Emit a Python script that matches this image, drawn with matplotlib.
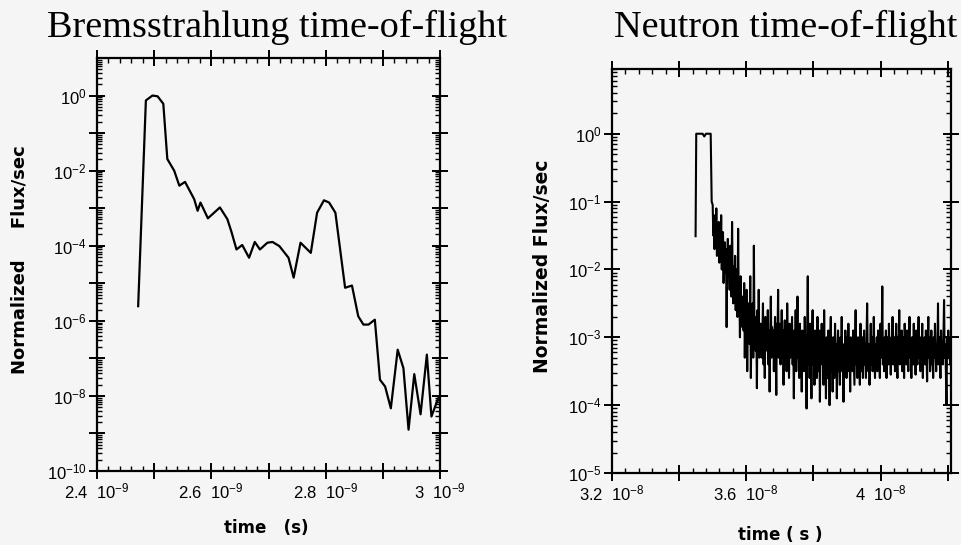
import numpy as np
import matplotlib
matplotlib.use("Agg")
import matplotlib.pyplot as plt
from matplotlib.ticker import AutoMinorLocator, LogLocator, NullFormatter

plt.rcParams['font.family'] = ['Liberation Sans', 'DejaVu Sans']
plt.rcParams['mathtext.fontset'] = 'custom'
plt.rcParams['mathtext.rm'] = 'Liberation Sans'
plt.rcParams['mathtext.it'] = 'Liberation Sans'

BG = '#f5f5f5'

# Bremsstrahlung time-of-flight (time in units of 1e-9 s, flux as log10)
brem_t = [2.472, 2.4855, 2.497, 2.506, 2.516, 2.523, 2.535, 2.544, 2.554, 2.570,
          2.576, 2.581, 2.594, 2.615, 2.628, 2.635, 2.644, 2.654, 2.666, 2.676,
          2.685, 2.698, 2.707, 2.719, 2.735, 2.744, 2.756, 2.774, 2.785, 2.797,
          2.806, 2.817, 2.834, 2.846, 2.857, 2.866, 2.875, 2.886, 2.895, 2.904,
          2.914, 2.926, 2.936, 2.945, 2.955, 2.966, 2.977, 2.985, 2.997]
brem_log = [-5.61, -0.13, 0.0, -0.02, -0.22, -1.69, -2.00, -2.40, -2.30, -2.76,
            -3.07, -2.85, -3.27, -2.98, -3.29, -3.62, -4.10, -3.98, -4.32, -3.90,
            -4.10, -3.92, -3.90, -4.01, -4.32, -4.85, -3.92, -4.19, -3.12, -2.79,
            -2.85, -3.12, -5.12, -5.06, -5.88, -6.10, -6.10, -5.97, -7.57, -7.75,
            -8.33, -6.77, -7.26, -8.90, -7.42, -8.49, -6.90, -8.55, -8.06]

# Neutron time-of-flight: leading pulse (time in units of 1e-8 s)
neut_head_t = [3.449, 3.451, 3.470, 3.475, 3.480, 3.494, 3.497]
neut_head_log = [-1.51, 0.0, 0.0, -0.04, 0.0, 0.0, -1.0]

# noisy tail, uniform bins from 3.50 to 4.22 (1e-8 s), log10 flux
neut_tail_start, neut_tail_end = 3.50, 4.22
neut_tail_log = [
    -1.05, -1.5, -1.2, -1.7, -1.3, -1.6, -1.1, -1.8, -1.4, -1.55,
    -1.3, -1.9, -1.5, -1.75, -1.2, -2.0, -1.6, -1.45, -2.2, -1.7,
    -1.6, -2.05, -1.7, -2.85, -1.9, -1.55, -2.1, -1.8, -2.3, -1.65,
    -1.9, -2.4, -1.3, -2.2, -2.5, -1.95, -2.3, -1.8, -2.6, -2.0,
    -2.2, -2.7, -1.4, -2.5, -2.3, -3.0, -2.1, -2.6, -2.4, -2.85,
    -2.4, -2.9, -2.2, -3.3, -2.6, -2.8, -2.3, -3.5, -2.7, -2.5,
    -2.6, -3.1, -2.1, -3.6, -2.8, -3.0, -2.5, -3.3, -1.65, -3.0,
    -2.7, -3.2, -2.9, -3.75, -2.6, -3.1, -2.3, -3.3, -2.8, -3.05,
    -2.8, -3.3, -3.0, -2.5, -3.4, -2.9, -3.6, -2.7, -3.1, -2.95,
    -3.2, -2.6, -3.4, -2.9, -3.8, -3.0, -2.4, -3.3, -2.85, -3.1,
    -2.9, -3.5, -3.0, -2.7, -3.2, -3.85, -2.8, -3.1, -2.3, -3.3,
    -3.0, -2.8, -3.4, -3.1, -2.6, -3.3, -2.9, -3.7, -3.0, -2.75,
    -3.2, -2.9, -3.5, -2.5, -3.1, -3.0, -3.6, -2.8, -3.3, -2.95,
    -3.1, -2.7, -3.4, -3.0, -3.9, -2.9, -3.3, -2.6, -3.5, -3.0,
    -2.4, -3.3, -3.1, -3.6, -2.8, -3.2, -3.0, -3.8, -2.9, -3.4,
    -3.0, -3.5, -2.7, -3.3, -3.1, -4.05, -2.9, -2.1, -3.4, -3.0,
    -3.6, -2.8, -3.2, -3.9, -3.0, -2.6, -3.4, -3.1, -3.7, -2.9,
    -3.3, -3.0, -3.6, -2.7, -3.2, -3.5, -2.9, -3.95, -3.1, -3.3,
    -2.8, -3.4, -3.1, -3.7, -2.6, -3.5, -3.2, -3.9, -3.0, -3.4,
    -3.6, -2.9, -3.3, -4.0, -3.1, -2.7, -3.5, -3.2, -3.8, -3.0,
    -3.3, -3.6, -2.8, -3.4, -3.1, -3.9, -3.2, -2.9, -3.5, -3.3,
    -3.7, -3.0, -3.4, -2.7, -3.5, -3.2, -3.95, -3.1, -3.4, -2.9,
    -3.3, -3.6, -3.0, -3.5, -2.8, -3.4, -3.2, -3.8, -3.0, -3.4,
    -3.1, -3.5, -2.9, -3.3, -3.7, -3.1, -2.6, -3.4, -3.2, -3.6,
    -3.0, -3.4, -3.2, -3.7, -2.8, -3.3, -3.5, -3.0, -3.6, -3.2,
    -2.9, -3.4, -3.1, -3.6, -3.0, -2.5, -3.3, -3.5, -3.1, -3.7,
    -3.2, -2.8, -3.4, -3.0, -3.5, -3.2, -2.7, -3.3, -3.6, -3.1,
    -3.3, -3.0, -3.5, -2.9, -3.4, -3.2, -3.6, -2.8, -3.3, -3.1,
    -2.25, -3.4, -3.1, -3.5, -3.0, -3.3, -2.9, -3.6, -3.2, -3.0,
    -3.4, -2.8, -3.3, -3.1, -3.55, -3.0, -3.2, -2.7, -3.4, -3.2,
    -3.0, -3.5, -3.1, -2.8, -3.3, -3.6, -3.0, -3.2, -2.6, -3.4,
    -3.1, -3.3, -2.9, -3.5, -3.2, -3.0, -3.6, -2.8, -3.3, -3.1,
    -3.4, -2.9, -3.2, -3.5, -3.0, -2.7, -3.3, -3.1, -3.6, -3.0,
    -3.2, -3.4, -2.8, -3.3, -3.1, -3.55, -2.9, -3.2, -3.4, -3.0,
    -2.7, -3.3, -3.1, -3.5, -3.0, -3.2, -2.8, -3.6, -3.1, -3.3,
    -3.0, -3.4, -2.9, -3.2, -3.65, -3.1, -2.7, -3.3, -3.0, -3.5,
    -3.2, -2.9, -3.4, -3.1, -3.6, -3.0, -3.3, -2.8, -3.2, -3.5,
    -3.1, -3.3, -2.5, -3.4, -3.0, -3.2, -3.6, -2.9, -3.3, -3.1,
    -3.4, -3.0, -2.45, -3.3, -3.1, -3.5, -4.0, -3.0, -3.2, -2.9,
    -3.3, -3.1, -3.4, -3.0, -3.5, -3.2, -2.9, -3.3, -3.1, -3.4,
]

brem_xlabels = {2.4: '2.4  $10^{-9}$', 2.6: '2.6  $10^{-9}$', 2.8: '2.8  $10^{-9}$', 3.0: '3  $10^{-9}$'}
neut_xlabels = {3.2: '3.2  $10^{-8}$', 3.6: '3.6  $10^{-8}$', 4.0: '4  $10^{-8}$'}

fig = plt.figure(figsize=(9.62, 5.45), dpi=100, facecolor=BG)
W, H = 962, 545
LABEL_FONT = 'DejaVu Sans'


def style_axes(ax):
    ax.set_facecolor(BG)
    for s in ax.spines.values():
        s.set_linewidth(1.6)
    ax.tick_params(which='major', direction='inout', length=11, width=1.4,
                   top=True, right=True, labelsize=12, pad=2)
    ax.tick_params(which='minor', direction='in', length=3.5, width=1.0,
                   top=True, right=True)


# ---------- left: Bremsstrahlung ----------
ax1 = fig.add_axes([97 / W, 1 - 471 / H, (440 - 97) / W, (471 - 58) / H])
style_axes(ax1)
t1 = np.array(brem_t) * 1e-9
ax1.semilogy(t1, 10.0 ** np.array(brem_log), color='black', lw=1.6)
ax1.set_xlim(2.4e-9, 3.0e-9)
ax1.set_ylim(1e-10, 1e1)
xt = np.round(np.arange(2.4, 3.01, 0.1), 1)
ax1.set_xticks(xt * 1e-9)
ax1.set_xticklabels([brem_xlabels.get(v, '') for v in xt])
ax1.xaxis.set_minor_locator(AutoMinorLocator(5))
yt = np.arange(-10, 1)
ax1.set_yticks(10.0 ** yt)
ax1.set_yticklabels(['$10^{%d}$' % e if e % 2 == 0 else '' for e in yt])
ax1.yaxis.set_minor_locator(LogLocator(base=10, subs=np.arange(2, 10), numticks=50))
ax1.yaxis.set_minor_formatter(NullFormatter())
ax1.set_xlabel('time   (s)', fontsize=12, fontweight='bold', family=LABEL_FONT)
ax1.set_ylabel('Normalized     Flux/sec', fontsize=13, fontweight='bold', family=LABEL_FONT)
ax1.xaxis.set_label_coords(266 / W, 1 - 519 / H, transform=fig.transFigure)
ax1.yaxis.set_label_coords(29 / W, 1 - 260 / H, transform=fig.transFigure)

# ---------- right: Neutron ----------
ax2 = fig.add_axes([612 / W, 1 - 473 / H, (951 - 612) / W, (473 - 69) / H])
style_axes(ax2)
n_tail = len(neut_tail_log)
t_tail = np.linspace(neut_tail_start, neut_tail_end, n_tail)
t2 = np.concatenate([neut_head_t, t_tail]) * 1e-8
f2 = 10.0 ** np.concatenate([neut_head_log, neut_tail_log])
ax2.semilogy(t2, f2, color='black', lw=1.5)
ax2.set_xlim(3.2e-8, 4.21e-8)
ax2.set_ylim(1e-5, 9)
xt2 = np.round(np.arange(3.2, 4.21, 0.2), 1)
ax2.set_xticks(xt2 * 1e-8)
ax2.set_xticklabels([neut_xlabels.get(v, '') for v in xt2])
ax2.xaxis.set_minor_locator(AutoMinorLocator(5))
yt2 = np.arange(-5, 1)
ax2.set_yticks(10.0 ** yt2)
ax2.set_yticklabels(['$10^{%d}$' % e for e in yt2])
ax2.yaxis.set_minor_locator(LogLocator(base=10, subs=np.arange(2, 10), numticks=50))
ax2.yaxis.set_minor_formatter(NullFormatter())
ax2.set_xlabel('time ( s )', fontsize=12, fontweight='bold', family=LABEL_FONT)
ax2.set_ylabel('Normalized Flux/sec', fontsize=13.5, fontweight='bold', family=LABEL_FONT)
ax2.xaxis.set_label_coords(780 / W, 1 - 526 / H, transform=fig.transFigure)
ax2.yaxis.set_label_coords(552 / W, 1 - 266 / H, transform=fig.transFigure)

# titles
fig.text(277 / W, 1 - 37 / H, 'Bremsstrahlung time-of-flight', ha='center', va='baseline',
         fontsize=27.5, family='Liberation Serif')
fig.text(786 / W, 1 - 37 / H, 'Neutron time-of-flight', ha='center', va='baseline',
         fontsize=27.5, family='Liberation Serif')

fig.savefig('out.png', dpi=100, facecolor=BG)
